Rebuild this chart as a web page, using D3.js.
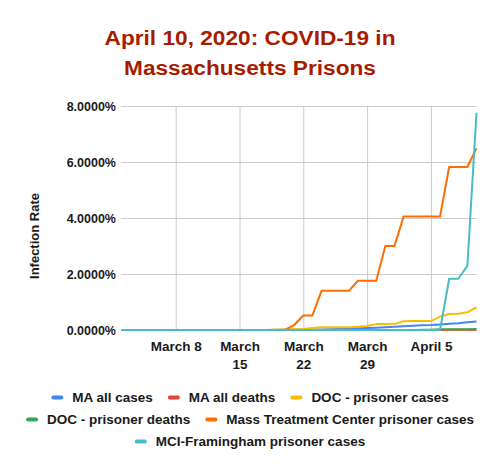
<!DOCTYPE html>
<html>
<head>
<meta charset="utf-8">
<script src="https://cdn.jsdelivr.net/npm/d3@7"></script>
<style>
  html, body { margin: 0; padding: 0; background: #fff; }
  svg { display: block; font-family: Arial, "Liberation Sans", sans-serif; }
</style>
</head>
<body>
<svg id="chart" width="500" height="474"></svg>
<script>
// ---------- DATA ----------
const titleLines = ["April 10, 2020: COVID-19 in", "Massachusetts Prisons"];
const yAxisTitle = "Infection Rate";

const dates = [
  "2020-03-02","2020-03-03","2020-03-04","2020-03-05","2020-03-06","2020-03-07","2020-03-08",
  "2020-03-09","2020-03-10","2020-03-11","2020-03-12","2020-03-13","2020-03-14","2020-03-15",
  "2020-03-16","2020-03-17","2020-03-18","2020-03-19","2020-03-20","2020-03-21","2020-03-22",
  "2020-03-23","2020-03-24","2020-03-25","2020-03-26","2020-03-27","2020-03-28","2020-03-29",
  "2020-03-30","2020-03-31","2020-04-01","2020-04-02","2020-04-03","2020-04-04","2020-04-05",
  "2020-04-06","2020-04-07","2020-04-08","2020-04-09","2020-04-10"
];

const seriesNames = [
  "MA all cases",
  "MA all deaths",
  "DOC - prisoner cases",
  "DOC - prisoner deaths",
  "Mass Treatment Center prisoner cases",
  "MCI-Framingham prisoner cases"
];
const seriesColors = ["#4285f4", "#ea4335", "#fbbc04", "#34a853", "#ff6d01", "#46bdc6"];

// values in percent
const maAllCases = [
  0.000, 0.000, 0.000, 0.000, 0.000, 0.000, 0.000,
  0.001, 0.001, 0.001, 0.002, 0.002, 0.002, 0.002,
  0.003, 0.003, 0.004, 0.005, 0.006, 0.008, 0.009,
  0.011, 0.017, 0.027, 0.035, 0.047, 0.062, 0.072,
  0.083, 0.096, 0.112, 0.130, 0.151, 0.170, 0.181,
  0.200, 0.220, 0.243, 0.275, 0.304
];
const maAllDeaths = [
  0, 0, 0, 0, 0, 0, 0,
  0, 0, 0, 0, 0, 0, 0,
  0, 0, 0, 0, 0.0001, 0.0001, 0.0001,
  0.0001, 0.0002, 0.0002, 0.0004, 0.0005, 0.0006, 0.0007,
  0.0008, 0.0013, 0.0018, 0.0022, 0.0028, 0.0032, 0.0035,
  0.0038, 0.0052, 0.0062, 0.0073, 0.0087
];
const docPrisonerCases = [
  0, 0, 0, 0, 0, 0, 0,
  0, 0, 0, 0, 0, 0, 0,
  0, 0, 0, 0.01, 0.02, 0.03, 0.04,
  0.07, 0.10, 0.10, 0.10, 0.10, 0.12, 0.14,
  0.21, 0.21, 0.22, 0.31, 0.32, 0.32, 0.32,
  0.48, 0.57, 0.58, 0.63, 0.81
];
const docPrisonerDeaths = [
  0, 0, 0, 0, 0, 0, 0,
  0, 0, 0, 0, 0, 0, 0,
  0, 0, 0, 0, 0, 0, 0,
  0, 0, 0, 0, 0, 0, 0,
  0, 0, 0, 0, 0, 0.013, 0.013,
  0.025, 0.025, 0.025, 0.025, 0.038
];
const mtcPrisonerCases = [
  0, 0, 0, 0, 0, 0, 0,
  0, 0, 0, 0, 0, 0, 0,
  0, 0, 0, 0, 0, 0.18, 0.52,
  0.52, 1.40, 1.40, 1.40, 1.40, 1.76, 1.76,
  1.76, 3.00, 3.00, 4.05, 4.05, 4.05, 4.05,
  4.05, 5.82, 5.82, 5.82, 6.49
];
const framinghamPrisonerCases = [
  0, 0, 0, 0, 0, 0, 0,
  0, 0, 0, 0, 0, 0, 0,
  0, 0, 0, 0, 0, 0, 0,
  0, 0, 0, 0, 0, 0, 0,
  0, 0, 0, 0, 0, 0, 0,
  0, 1.83, 1.83, 2.29, 7.76
];

const yTicks = [0, 2, 4, 6, 8];
const xTickDates = ["2020-03-08", "2020-03-15", "2020-03-22", "2020-03-29", "2020-04-05"];
const xTickLabels = [["March 8"], ["March", "15"], ["March", "22"], ["March", "29"], ["April 5"]];

// ---------- CHART ----------
const parse = d3.timeParse("%Y-%m-%d");
const allValues = [maAllCases, maAllDeaths, docPrisonerCases, docPrisonerDeaths, mtcPrisonerCases, framinghamPrisonerCases];
const series = seriesNames.map((name, i) => ({
  name, color: seriesColors[i],
  points: dates.map((d, j) => ({ date: parse(d), value: allValues[i][j] }))
}));

const svg = d3.select("#chart");
const plot = { left: 121, right: 476.5, top: 106, bottom: 330 };

const x = d3.scaleTime()
  .domain([parse(dates[0]), parse(dates[dates.length - 1])])
  .range([plot.left, plot.right]);
const y = d3.scaleLinear().domain([0, 8]).range([plot.bottom, plot.top]);

// title
svg.append("g").selectAll("text").data(titleLines).join("text")
  .attr("transform", (d, i) => `translate(250,${45 + i * 30}) scale(1.09,1)`)
  .attr("text-anchor", "middle")
  .attr("font-size", 20.8).attr("font-weight", "bold")
  .attr("fill", "#a61c00")
  .text(d => d);

// horizontal gridlines + y labels
const yAxis = d3.axisLeft(y).tickValues(yTicks)
  .tickSize(-(plot.right - plot.left))
  .tickPadding(5)
  .tickFormat(d => d3.format(".4f")(d) + "%");
const gy = svg.append("g").attr("transform", `translate(${plot.left},0)`).call(yAxis);
gy.select(".domain").remove();
gy.selectAll(".tick line").attr("stroke", "#cccccc").attr("stroke-width", 1);
gy.selectAll(".tick text")
  .attr("font-size", 12.5).attr("font-weight", "bold")
  .attr("font-family", "Arial, 'Liberation Sans', sans-serif")
  .attr("fill", "#1a1a1a");

// vertical gridlines + x labels
const xAxis = d3.axisBottom(x).tickValues(xTickDates.map(parse))
  .tickSize(-(plot.bottom - plot.top)).tickFormat("");
const gx = svg.append("g").attr("transform", `translate(0,${plot.bottom})`).call(xAxis);
gx.select(".domain").remove();
gx.selectAll(".tick line").attr("stroke", "#cccccc").attr("stroke-width", 1);
gx.selectAll(".tick").each(function (d, i) {
  const t = d3.select(this).append("text")
    .attr("text-anchor", "middle")
    .attr("font-size", 13.5).attr("font-weight", "bold")
    .attr("font-family", "Arial, 'Liberation Sans', sans-serif")
    .attr("fill", "#1a1a1a");
  xTickLabels[i].forEach((line, k) => {
    t.append("tspan").attr("x", 0).attr("y", 21 + k * 17.5).text(line);
  });
});

// y axis title
svg.append("text")
  .attr("transform", "translate(38.5,236) rotate(-90)")
  .attr("text-anchor", "middle")
  .attr("font-size", 13).attr("font-weight", "bold")
  .attr("fill", "#1a1a1a")
  .text(yAxisTitle);

// lines
const line = d3.line().x(d => x(d.date)).y(d => y(d.value));
svg.append("g").selectAll("path").data(series).join("path")
  .attr("fill", "none")
  .attr("stroke", d => d.color)
  .attr("stroke-width", 2)
  .attr("stroke-linejoin", "round")
  .attr("d", d => line(d.points));

// legend (flow layout, centered rows)
const legendFont = 13.5, swW = 12, swH = 4, swGap = 9, itemGap = 15, maxRow = 480;
const measurer = svg.append("text").attr("font-size", legendFont).attr("font-weight", "bold");
const items = series.map(s => {
  measurer.text(s.name);
  const tw = measurer.node().getComputedTextLength();
  return { ...s, tw, w: swW + swGap + tw };
});
measurer.remove();
const rows = [];
let cur = [], curW = 0;
items.forEach(it => {
  const add = cur.length ? itemGap + it.w : it.w;
  if (cur.length && curW + add > maxRow) { rows.push({ items: cur, w: curW }); cur = [it]; curW = it.w; }
  else { cur.push(it); curW += add; }
});
if (cur.length) rows.push({ items: cur, w: curW });

const legend = svg.append("g");
rows.forEach((row, r) => {
  const cy = 397.5 + r * 22;
  let xx = 250 - row.w / 2;
  row.items.forEach(it => {
    legend.append("rect")
      .attr("x", xx).attr("y", cy - swH / 2)
      .attr("width", swW).attr("height", swH).attr("rx", 2)
      .attr("fill", it.color);
    legend.append("text")
      .attr("x", xx + swW + swGap).attr("y", cy + 4.8)
      .attr("font-size", legendFont).attr("font-weight", "bold")
      .attr("fill", "#1a1a1a")
      .text(it.name);
    xx += it.w + itemGap;
  });
});
</script>
</body>
</html>
